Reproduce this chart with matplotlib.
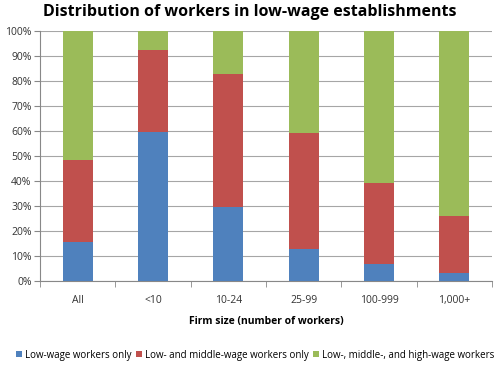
import matplotlib.pyplot as plt
import numpy as np

# firm size categories
cats = ['All', '<10', '10-24', '25-99', '100-999', '1,000+']
# shares in percent
low_only = [15.5, 59.7, 29.5, 12.7, 6.8, 3.1]
low_mid = [32.8, 32.7, 53.2, 46.6, 32.4, 23.0]
all_three = [51.7, 7.6, 17.3, 40.7, 60.8, 73.9]

names = ['Low-wage workers only', 'Low- and middle-wage workers only',
         'Low-, middle-, and high-wage workers']
colors = ['#4F81BD', '#C0504D', '#9BBB59']

plt.rcParams['font.family'] = ['Open Sans', 'DejaVu Sans']

fig = plt.figure(figsize=(5, 3.66), dpi=100)
ax = fig.add_axes([0.08, 0.232, 0.904, 0.683])

x = np.arange(len(cats))
bottom = np.zeros(len(cats))
for vals, c, n in zip([low_only, low_mid, all_three], colors, names):
    ax.bar(x, vals, 0.4, bottom=bottom, color=c, label=n, zorder=3)
    bottom += np.array(vals)

ax.set_xlim(-0.5, 5.5)
ax.set_ylim(0, 100)
ax.set_yticks(np.arange(0, 101, 10))
ax.set_yticklabels([f'{v}%' for v in range(0, 101, 10)], fontsize=7.5, color='#333333')
ax.yaxis.grid(True, color='#a6a6a6', lw=0.8, zorder=0)

ax.set_xticks(x)
ax.set_xticklabels(cats, fontsize=7.5, color='#333333')
ax.set_xticks(np.arange(-0.5, 6, 1), minor=True)
ax.tick_params(axis='x', which='major', length=0, pad=10)
ax.tick_params(axis='x', which='minor', length=4, color='#888888', direction='out')
ax.tick_params(axis='y', length=4, color='#888888', pad=2)

for s in ['top', 'right']:
    ax.spines[s].set_visible(False)
for s in ['left', 'bottom']:
    ax.spines[s].set_color('#888888')

ax.set_xlabel('Firm size (number of workers)', fontsize=7.5, fontweight='bold', labelpad=7)
fig.suptitle('Distribution of workers in low-wage establishments',
             fontsize=11.5, fontweight='bold', y=0.99)

ax.legend(loc='center', bbox_to_anchor=(0.476, -0.296), ncol=3, frameon=False,
          fontsize=7, handlelength=0.6, handleheight=0.6, handletextpad=0.3,
          columnspacing=0.5, borderaxespad=0, borderpad=0)

fig.savefig('out.png', dpi=100)
